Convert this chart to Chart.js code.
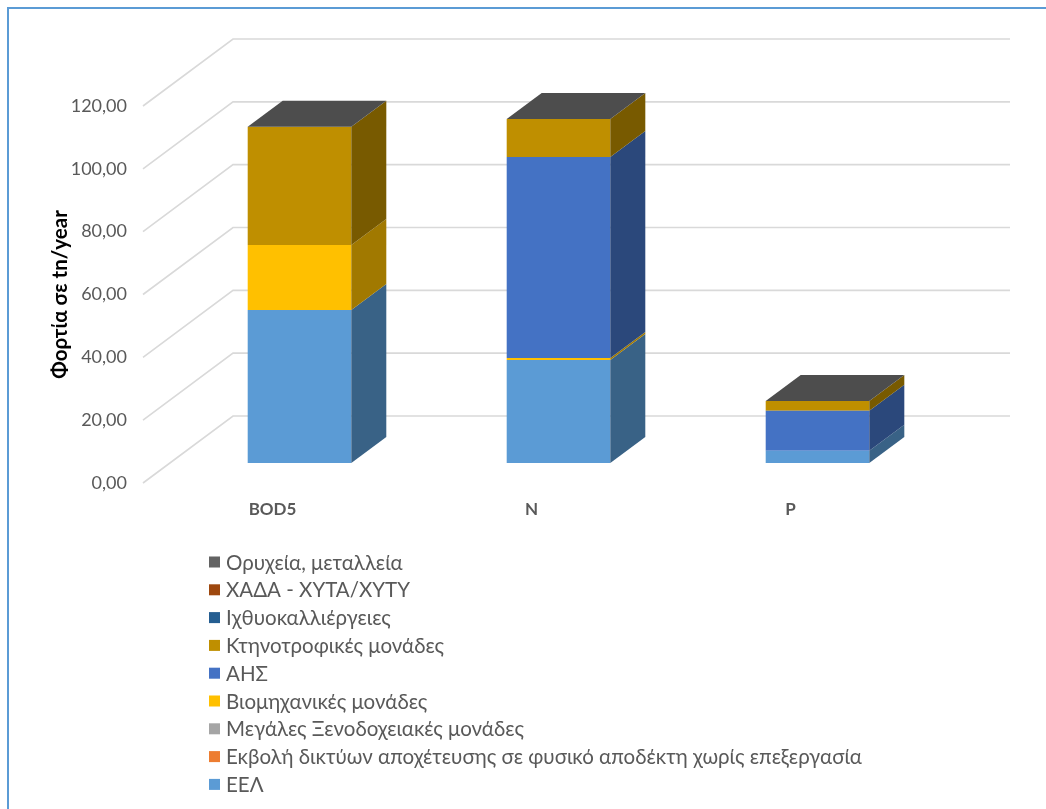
<!DOCTYPE html>
<html>
<head>
<meta charset="utf-8">
<script src="https://cdn.jsdelivr.net/npm/chart.js@4.4.1/dist/chart.umd.min.js"></script>
<style>
  html, body { margin: 0; padding: 0; background: #ffffff; overflow: hidden; }
  #frame { position: absolute; left: 7px; top: 7px; width: 1100px; height: 900px;
           border: 2px solid #5b9bd5; box-sizing: border-box; }
  #chart { position: absolute; left: 0; top: 0; }
</style>
</head>
<body>
<div id="frame"></div>
<canvas id="chart" width="1046" height="809"></canvas>
<script>
// Pollution loads per parameter (tn/year), stacked by source
const categories = ['BOD5', 'N', 'P'];
const yTickLabels = ['0,00', '20,00', '40,00', '60,00', '80,00', '100,00', '120,00'];

// Series, bottom of stack first
const seriesLabels = [
  'ΕΕΛ',
  'Εκβολή δικτύων αποχέτευσης σε φυσικό αποδέκτη χωρίς επεξεργασία',
  'Μεγάλες Ξενοδοχειακές μονάδες',
  'Βιομηχανικές μονάδες',
  'ΑΗΣ',
  'Κτηνοτροφικές μονάδες',
  'Ιχθυοκαλλιέργειες',
  'ΧΑΔΑ - ΧΥΤΑ/ΧΥΤΥ',
  'Ορυχεία, μεταλλεία'
];
const eelValues         = [48.7, 32.8, 3.9];
const ekvoliValues      = [0, 0, 0];
const xenodoxeiaValues  = [0, 0, 0];
const viomixaniaValues  = [20.7, 0.6, 0];
const ahsValues         = [0, 64.0, 12.7];
const ktinotrofiaValues = [37.6, 12.1, 3.1];
const ixthyoValues      = [0, 0, 0];
const xadaValues        = [0, 0, 0];
const oryxeiaValues     = [0, 0, 0];

const seriesValues = [eelValues, ekvoliValues, xenodoxeiaValues, viomixaniaValues,
  ahsValues, ktinotrofiaValues, ixthyoValues, xadaValues, oryxeiaValues];
const seriesColors = ['#5b9bd5', '#ed7d31', '#a5a5a5', '#ffc000', '#4472c4',
  '#bf8f00', '#255e91', '#9e480e', '#636363'];

// Oblique projection offsets
const FRONT = { dx: 27, dy: -20 };   // bar front face relative to the front plane
const DEPTH = { dx: 35, dy: -26 };   // bar depth
const WALL  = { dx: 90, dy: -67 };   // back wall relative to the front plane

function shade(hex, f) {
  const n = parseInt(hex.slice(1), 16);
  const r = Math.round(((n >> 16) & 255) * f);
  const g = Math.round(((n >> 8) & 255) * f);
  const b = Math.round((n & 255) * f);
  return `rgb(${r},${g},${b})`;
}

const walls3d = {
  id: 'walls3d',
  beforeDatasetsDraw(chart) {
    const { ctx, chartArea: a } = chart;
    const ys = chart.scales.y;
    ctx.save();
    ctx.strokeStyle = '#d9d9d9';
    ctx.lineWidth = 1.6;
    ys.ticks.forEach(t => {
      const py = ys.getPixelForValue(t.value);
      ctx.beginPath();
      ctx.moveTo(a.left, py);
      ctx.lineTo(a.left + WALL.dx, py + WALL.dy);
      ctx.lineTo(a.right + WALL.dx, py + WALL.dy);
      ctx.stroke();
    });
    ctx.restore();
    // front faces are drawn by Chart.js, pushed into depth
    ctx.save();
    ctx.translate(FRONT.dx, FRONT.dy);
  },
  afterDatasetsDraw(chart) {
    const { ctx } = chart;
    ctx.restore();
    const n = chart.data.datasets.length;
    // side faces
    for (let di = 0; di < n; di++) {
      const meta = chart.getDatasetMeta(di);
      const col = chart.data.datasets[di].backgroundColor;
      meta.data.forEach(el => {
        const p = el.getProps(['x', 'y', 'base', 'width'], true);
        if (Math.abs(p.base - p.y) < 0.01) return;
        const xr = p.x + p.width / 2 + FRONT.dx;
        const yt = p.y + FRONT.dy, yb = p.base + FRONT.dy;
        ctx.fillStyle = shade(col, 0.63);
        ctx.beginPath();
        ctx.moveTo(xr, yt);
        ctx.lineTo(xr + DEPTH.dx, yt + DEPTH.dy);
        ctx.lineTo(xr + DEPTH.dx, yb + DEPTH.dy);
        ctx.lineTo(xr, yb);
        ctx.closePath();
        ctx.fill();
      });
    }
    // top faces take the colour of the uppermost series
    const topMeta = chart.getDatasetMeta(n - 1);
    const topCol = chart.data.datasets[n - 1].backgroundColor;
    topMeta.data.forEach(el => {
      const p = el.getProps(['x', 'y', 'width'], true);
      const xl = p.x - p.width / 2 + FRONT.dx, xr = p.x + p.width / 2 + FRONT.dx;
      const yt = p.y + FRONT.dy;
      ctx.fillStyle = shade(topCol, 0.78);
      ctx.beginPath();
      ctx.moveTo(xl, yt);
      ctx.lineTo(xr, yt);
      ctx.lineTo(xr + DEPTH.dx, yt + DEPTH.dy);
      ctx.lineTo(xl + DEPTH.dx, yt + DEPTH.dy);
      ctx.closePath();
      ctx.fill();
    });
  }
};

const listLegend = {
  id: 'listLegend',
  afterDraw(chart) {
    const { ctx } = chart;
    const items = chart.data.datasets.map(d => ({ text: d.label, color: d.backgroundColor })).reverse();
    ctx.save();
    ctx.font = '20.5px Lato, "Open Sans", sans-serif';
    ctx.textBaseline = 'middle';
    ctx.textAlign = 'left';
    items.forEach((it, k) => {
      const cy = 562 + k * 27.8;
      ctx.fillStyle = it.color;
      ctx.fillRect(209, cy - 5.5, 11, 11);
      ctx.fillStyle = '#595959';
      ctx.fillText(it.text, 226, cy + 1);
    });
    ctx.restore();
  }
};

new Chart(document.getElementById('chart'), {
  type: 'bar',
  data: {
    labels: categories,
    datasets: seriesLabels.map((label, i) => ({
      label,
      data: seriesValues[i],
      backgroundColor: seriesColors[i],
      borderWidth: 0,
      clip: false,
      categoryPercentage: 1,
      barPercentage: 0.4
    }))
  },
  options: {
    responsive: false,
    devicePixelRatio: 1,
    animation: false,
    layout: { padding: { left: 0, right: 126, top: 106, bottom: 266 } },
    plugins: {
      legend: { display: false },
      tooltip: { enabled: false }
    },
    scales: {
      x: {
        stacked: true,
        grid: { display: false, drawTicks: false },
        border: { display: false },
        ticks: {
          padding: 16,
          color: '#595959',
          font: { family: 'Lato, "Open Sans", sans-serif', size: 17, weight: 'bold' }
        },
        afterFit(s) { s.height = 60; }
      },
      y: {
        stacked: true,
        min: 0,
        max: 120,
        grid: { display: false, drawTicks: false },
        border: { display: false },
        ticks: {
          stepSize: 20,
          padding: 16,
          color: '#595959',
          font: { family: 'Lato, "Open Sans", sans-serif', size: 18 },
          callback: (v, i) => yTickLabels[i]
        },
        title: {
          display: true,
          text: 'Φορτία σε tn/year',
          color: '#000000',
          padding: { top: 48, bottom: 0 },
          font: { family: 'Lato, "Open Sans", sans-serif', size: 20.5, weight: 'bold' }
        },
        afterFit(s) { s.width = 143; }
      }
    }
  },
  plugins: [walls3d, listLegend]
});
</script>
</body>
</html>
